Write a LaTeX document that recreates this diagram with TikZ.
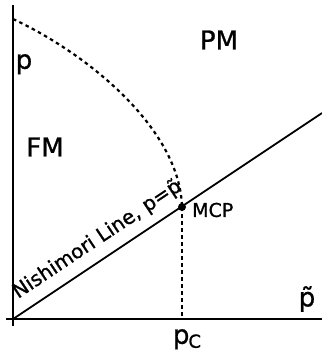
\documentclass[tikz,border=0pt]{standalone}
\usepackage{fontspec}
\setmainfont{DejaVu Sans}[FakeBold=1]
\begin{document}
\begin{tikzpicture}[x=1pt,y=-1pt,
  axis/.style={line width=2pt,black},
  dotline/.style={line width=2.2pt,dash pattern=on 3.5pt off 3.5pt,black},
  big/.style={font=\fontsize{26}{26}\selectfont,inner sep=0pt},
  small/.style={font=\fontsize{19}{19}\selectfont,inner sep=0pt}]
\useasboundingbox (0,0) rectangle (322,357);
\coordinate (O) at (13,319);
\coordinate (ytop) at (13,5);
\coordinate (ybot) at (13,326);
\coordinate (xleft) at (6,319);
\coordinate (xright) at (322,319);
\coordinate (start) at (13,19);
\coordinate (mcp) at (182,207);
\coordinate (pc) at (182,319);
\coordinate (lineend) at (322,113);
\draw[axis] (ybot) -- (ytop);
\draw[axis] (xleft) -- (xright);
\draw[line width=1.8pt] (O) -- (lineend);
\draw[dotline] (start) .. controls (90,55) and (180,130) .. (mcp);
\draw[dotline] (mcp) -- (pc);
\fill (mcp) circle (4);
\node[big,anchor=north] (plab) at (24,54) {p};
\node[big] (fm) at (45,147) {FM};
\node[big] (pm) at (219,40) {PM};
\node[small,anchor=west] (mcplab) at (192,210) {MCP};
\node[big,anchor=south] (pt) at (307,312) {p̃};
\node[big,anchor=north] (pclab) at (187,329) {p\kern-1pt\raisebox{-4pt}{\fontsize{18}{18}\selectfont C}};
\node[font=\fontsize{20}{20}\selectfont,inner sep=0pt,anchor=base west,rotate=33.7] (nl) at (18,299) {Nishimori Line, p=p̃};
\end{tikzpicture}
\end{document}
